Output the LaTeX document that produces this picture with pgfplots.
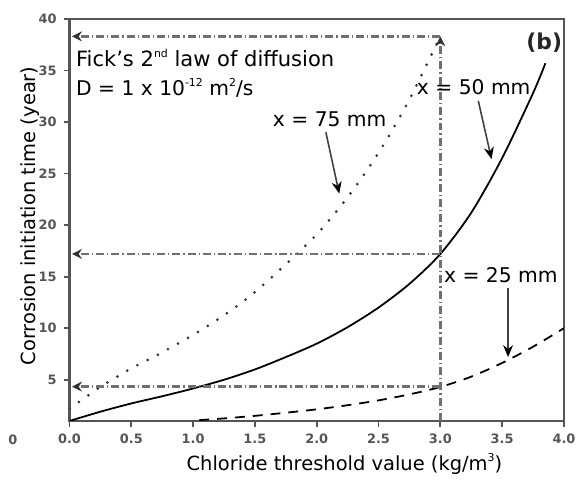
\documentclass[border=0pt]{standalone}
\usepackage{fontspec}
\setmainfont{DejaVu Sans}
\usepackage{pgfplots}
\pgfplotsset{compat=1.18}
\usetikzlibrary{arrows.meta}
\definecolor{axgray}{HTML}{555555}
\definecolor{ddgray}{HTML}{707070}
\newcommand\sups[1]{\raisebox{0.85ex}{\fontsize{5.5}{6}\selectfont #1}}
\begin{document}
\begin{tikzpicture}
\begin{axis}[
  name=ax, scale only axis, width=249pt, height=202.5pt,
  xmin=0, xmax=4, ymin=1, ymax=40,
  xtick={0,0.5,1,1.5,2,2.5,3,3.5,4},
  xticklabels={0.0,0.5,1.0,1.5,2.0,2.5,3.0,3.5,4.0},
  ytick={5,10,15,20,25,30,35,40},
  tick align=outside, major tick length=3pt, tick pos=left,
  axis line style={axgray, line width=1.1pt},
  every tick/.style={axgray, line width=0.9pt},
  tick label style={font=\fontsize{6.5}{8}\selectfont\bfseries, text=axgray},
  /pgf/number format/assume math mode=true,
  xlabel={Chloride threshold value (kg/m\sups{3})},
  ylabel={Corrosion initiation time (year)},
  label style={font=\fontsize{9.8}{12}\selectfont},
  xlabel style={at={(axis description cs:0.556,-0.106)}, anchor=center},
  ylabel style={at={(axis description cs:-0.080,0.51)}, anchor=center, rotate=0},
]
% x = 50 mm
\addplot[black, line width=0.9pt, smooth] coordinates {
(0,1.0) (0.25,1.9) (0.5,2.7) (0.75,3.4) (1.0,4.15) (1.25,5.0) (1.5,6.0) (1.75,7.2)
(2.0,8.5) (2.25,10.1) (2.5,12.0) (2.75,14.3) (3.0,17.2) (3.25,21.2) (3.5,26.5)
(3.75,32.8) (3.85,35.7)};
% x = 75 mm
\addplot[black!80, line width=1.5pt, line cap=round, dash pattern=on 0pt off 5.8pt, smooth] coordinates {
(0,2.2) (0.25,4.3) (0.5,6.1) (0.75,7.65) (1.0,9.35) (1.25,11.25) (1.5,13.5)
(1.75,16.2) (2.0,19.1) (2.25,22.7) (2.5,27.0) (2.75,32.2) (3.0,38.3)};
% x = 25 mm
\addplot[black, line width=0.9pt, dash pattern=on 5pt off 4pt, smooth] coordinates {
(1.05,1.08) (1.25,1.25) (1.5,1.5) (1.75,1.8) (2.0,2.13) (2.25,2.53) (2.5,3.0)
(2.75,3.58) (3.0,4.3) (3.25,5.3) (3.5,6.63) (3.75,8.2) (4.0,10.0)};
% dash-dot guides
\addplot[ddgray, line width=1.2pt, dash pattern=on 4pt off 1.5pt on 0.7pt off 1.5pt,
  -{Stealth[length=5pt,width=5pt,black!80]}] coordinates {(3.0,1) (3.0,38.3)};
\addplot[ddgray, line width=1.2pt, dash pattern=on 4pt off 1.5pt on 0.7pt off 1.5pt,
  -{Stealth[length=5pt,width=5pt,black!80]}] coordinates {(3.0,38.3) (0.02,38.3)};
\addplot[ddgray, line width=1.2pt, dash pattern=on 4pt off 1.5pt on 0.7pt off 1.5pt,
  -{Stealth[length=5pt,width=5pt,black!80]}] coordinates {(3.0,17.2) (0.02,17.2)};
\addplot[ddgray, line width=1.2pt, dash pattern=on 4pt off 1.5pt on 0.7pt off 1.5pt,
  -{Stealth[length=5pt,width=5pt,black!80]}] coordinates {(3.0,4.33) (0.02,4.33)};
% annotation arrows
\addplot[black!75, line width=0.8pt, -{Stealth[length=6pt,width=5pt,black]}] coordinates {(2.074,29.0) (2.182,23.05)};
\addplot[black!75, line width=0.8pt, -{Stealth[length=6pt,width=5pt,black]}] coordinates {(3.307,32.05) (3.414,26.4)};
\addplot[black!75, line width=0.8pt, -{Stealth[length=6pt,width=5pt,black]}] coordinates {(3.548,13.94) (3.548,7.2)};
% texts
\node[anchor=west, font=\fontsize{10.6}{12}\selectfont, inner sep=0pt] at (axis cs:0.05,36.2) {Fick's 2\sups{nd} law of diffusion};
\node[anchor=west, font=\fontsize{10.2}{12}\selectfont, inner sep=0pt] at (axis cs:0.05,33.3) {D = 1 x 10\sups{-12} m\sups{2}/s};
\node[font=\fontsize{10.2}{12}\selectfont, inner sep=0pt] at (axis cs:2.105,30.3) {x = 75 mm};
\node[font=\fontsize{10.2}{12}\selectfont, inner sep=0pt] at (axis cs:3.27,33.4) {x = 50 mm};
\node[font=\fontsize{10.2}{12}\selectfont, inner sep=0pt] at (axis cs:3.49,15.1) {x = 25 mm};
\node[font=\fontsize{11}{13}\selectfont\bfseries, text=black!85, inner sep=0pt] at (axis cs:3.84,37.7) {(b)};
\end{axis}
\node[font=\fontsize{6.5}{8}\selectfont\bfseries, text=axgray] at ([shift={(-28.5pt,-9.5pt)}]ax.south west) {0};
\path ([shift={(-35pt,-30pt)}]ax.south west) rectangle ([shift={(7pt,9.5pt)}]ax.north east);
\end{tikzpicture}
\end{document}
